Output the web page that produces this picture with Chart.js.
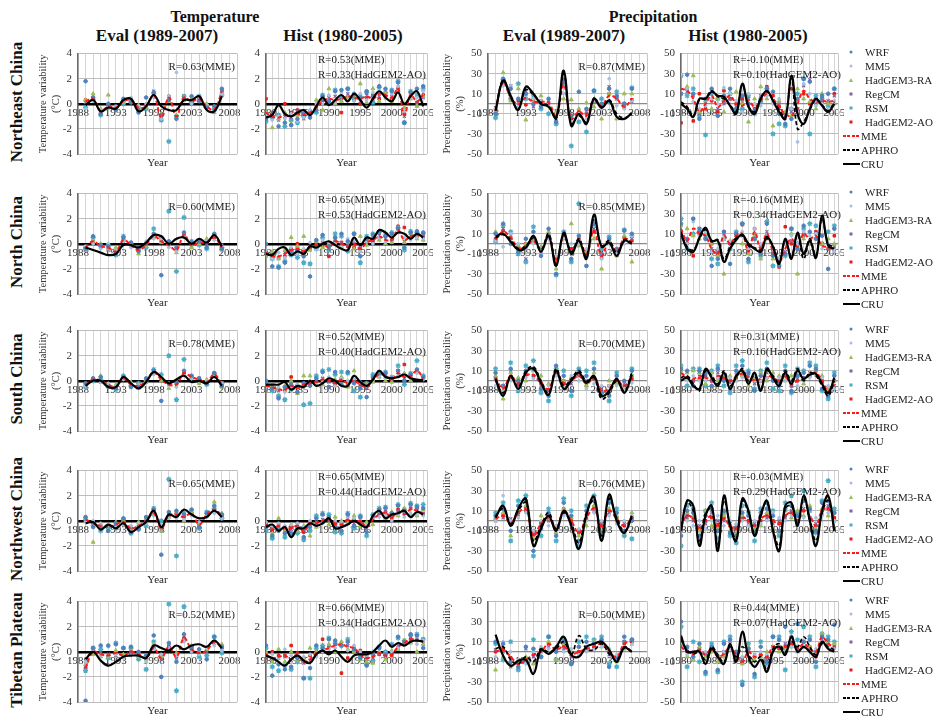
<!DOCTYPE html>
<html><head><meta charset="utf-8">
<script src="https://cdn.jsdelivr.net/npm/chart.js@4/dist/chart.umd.min.js"></script>
<style>
body{margin:0;width:933px;height:718px;position:relative;background:#fff;overflow:hidden;font-family:'Liberation Serif','Times New Roman',serif;color:#111}
canvas{position:absolute}
.h{position:absolute;transform:translate(-50%,-50%);font-weight:bold;white-space:nowrap}
.row{position:absolute;transform:translate(-50%,-50%) rotate(-90deg);font-weight:bold;font-size:17px;white-space:nowrap}
.lg{position:absolute;font-size:11px;white-space:nowrap;transform:translateY(-50%);color:#222}
.mk{position:absolute;transform:translate(-50%,-50%)}
</style></head><body>
<script>
// ---------------- DATA ----------------
const YEARS_EVAL = [1989,1990,1991,1992,1993,1994,1995,1996,1997,1998,1999,2000,2001,2002,2003,2004,2005,2006,2007];
const YEARS_HIST = [1980,1981,1982,1983,1984,1985,1986,1987,1988,1989,1990,1991,1992,1993,1994,1995,1996,1997,1998,1999,2000,2001,2002,2003,2004,2005];
const EVAL_TICKS = [1988,1993,1998,2003,2008];
const HIST_TICKS = [1980,1985,1990,1995,2000,2005];
const T_TICKS = [-4,-2,0,2,4];
const P_TICKS = [-50,-30,-10,10,30,50];
const MODELS = ['WRF','MM5','HadGEM3-RA','RegCM','RSM','HadGEM2-AO'];
const LEGEND = ['WRF','MM5','HadGEM3-RA','RegCM','RSM','HadGEM2-AO','MME','APHRO','CRU'];
const REGIONS = ['Northeast China','North China','South China','Northwest China','Tibetan Plateau'];
// Temperature panels: rows = WRF, MM5, HadGEM3-RA, RegCM, RSM, HadGEM2-AO, MME, CRU
// Precipitation panels: rows = WRF, MM5, HadGEM3-RA, RegCM, RSM, HadGEM2-AO, MME, APHRO, CRU

const NE_T_EVAL = [
 [1.8,0.5,-0.8,0.0,-0.5,0.4,0.1,-0.7,0.5,0.9,-0.9,0.3,-1.2,0.4,0.6,0.2,-0.3,-0.2,1.2],
 [-0.4,0.2,-0.5,-0.3,-0.2,0.3,0.5,-0.2,0.0,0.5,-1.2,0.6,2.5,0.4,0.0,0.5,-0.1,-0.6,0.8],
 [0.3,0.8,-0.4,0.7,-0.4,0.1,0.2,-0.1,-0.3,0.6,-0.8,0.2,-0.9,0.5,0.4,0.3,0.0,-0.7,0.9],
 [0.1,0.4,-0.7,-0.1,-0.2,0.3,0.4,-0.4,-0.2,1.0,-1.0,0.4,-1.1,0.3,0.2,0.5,-0.3,-0.4,1.1],
 [-0.3,0.3,-0.9,-0.3,-0.3,0.0,0.2,-0.5,-0.4,0.8,-1.3,-3.0,-1.0,0.6,0.1,0.6,-0.2,-0.5,0.7],
 [0.3,0.5,-0.6,-0.1,-0.4,0.2,0.3,-0.3,-0.1,0.6,-1.2,0.6,-1.0,0.6,0.3,0.4,-0.2,-0.5,1.0],
 [0.2,0.4,-0.6,-0.2,-0.3,0.2,0.3,-0.3,-0.2,0.7,-1.1,0.5,-1.0,0.5,0.2,0.4,-0.2,-0.5,1.0],
 [-0.1,0.3,-0.6,-0.3,-0.4,0.3,0.4,-0.6,-0.2,0.7,-0.2,-0.5,-0.5,0.3,0.3,0.6,-0.5,-0.6,0.6]
];
const NE_T_HIST = [
 [-1.2,-1.0,-1.8,-1.5,-1.7,-1.2,-0.8,-1.1,-0.5,0.6,0.2,1.0,1.1,1.2,0.8,0.5,1.0,0.6,1.4,1.2,1.0,1.7,-1.5,0.9,1.2,1.4],
 [-0.9,-1.3,-1.0,-1.2,-0.8,-1.4,-1.1,-0.5,0.0,0.0,0.7,0.1,0.9,0.3,0.2,0.8,0.3,0.9,1.0,0.4,0.8,1.4,-0.6,0.5,0.5,1.0],
 [-0.6,-1.9,-1.2,-0.7,-1.6,-0.9,-0.6,-0.8,0.3,-0.5,1.2,0.0,0.2,0.5,0.7,1.6,0.1,1.2,0.2,0.9,0.2,1.0,-0.3,0.4,-0.2,0.6],
 [-0.8,-0.7,-1.3,-1.0,-1.1,-0.6,-1.2,-0.9,-0.4,0.3,0.5,0.6,0.3,0.8,0.6,0.2,0.7,0.3,0.6,1.1,0.6,1.3,-1.0,0.8,0.0,0.5],
 [-1.4,-1.1,-0.9,-1.8,-1.3,-1.5,-1.0,-0.6,-0.7,0.7,0.1,1.1,0.5,1.2,0.4,0.6,0.9,0.1,1.3,0.9,1.1,1.8,-1.5,1.0,0.7,1.2],
 [0.4,-0.8,-0.9,0.0,-0.7,-0.5,-1.0,-0.6,-0.2,0.3,0.2,0.1,-0.7,0.5,0.3,0.0,0.5,0.7,0.4,0.6,0.3,1.2,-0.8,0.6,0.1,0.7],
 [-0.7,-1.0,-1.1,-0.9,-1.0,-0.8,-0.9,-0.7,-0.3,0.2,0.4,0.3,0.4,0.6,0.5,0.4,0.6,0.4,0.8,0.7,0.5,1.2,-0.9,0.7,0.2,0.7],
 [-1.1,-0.9,-0.1,-0.8,-1.0,-0.7,-0.5,-0.9,-0.2,0.5,-0.1,0.3,0.7,0.2,0.8,0.3,-0.3,0.4,1.0,0.5,0.2,0.9,0.0,0.6,1.0,-0.2]
];
const NE_P_EVAL = [
 [-10,25,15,5,10,0,-3,5,-18,25,-12,12,-5,13,0,15,8,0,15],
 [-5,18,18,-3,8,5,3,0,-10,10,-18,-10,-15,3,-5,25,-2,-5,3],
 [-8,31,3,15,-16,5,8,-2,-8,5,4,-5,1,-3,-15,10,-15,10,10],
 [-4,20,18,-2,12,-3,0,3,-15,22,-20,-10,-8,2,0,17,5,-2,2],
 [-14,24,5,20,5,8,-5,-10,-20,18,-42,-18,-28,13,5,2,12,0,16],
 [-6,23,5,3,-1,4,3,1,-10,20,-12,-8,-10,2,-3,10,6,-4,4],
 [-7,22,6,0,6,2,2,1,-12,19,-15,-8,-12,4,-2,8,5,-3,5],
 [-6,24,6,-5,14,9,1,-2,-15,30,-20,-12,-18,6,-3,4,-10,-14,-10],
 [-7,23,8,-6,17,10,0,-3,-14,33,-22,-10,-20,5,-4,3,-13,-15,-9]
];
const NE_P_HIST = [
 [10,29,10,-15,5,15,-12,8,15,-5,8,0,-8,5,15,12,-10,-20,-15,5,25,22,5,8,10,15],
 [29,15,2,-5,-2,5,0,16,10,3,-8,10,0,-2,8,0,5,-15,-5,-38,20,10,-2,0,-5,3],
 [0,17,28,-8,3,-5,5,-8,10,12,0,-18,5,17,5,-22,3,-8,-12,15,5,2,-5,10,0,0],
 [10,12,8,-10,2,12,-5,0,5,-3,2,5,-5,8,12,3,0,-12,-8,-5,18,24,0,5,3,8],
 [28,8,15,-12,-31,10,5,3,10,-8,-5,8,-10,2,15,-30,-20,-22,-5,10,25,-30,8,5,-2,15],
 [-19,15,-17,10,-5,3,-8,13,5,0,5,0,-5,3,17,8,-3,-10,15,-5,10,0,5,2,0,10],
 [15,13,5,-8,0,8,-3,3,8,0,-2,3,-3,3,10,5,-3,-10,-12,0,13,5,2,3,2,3],
 [2,-3,-12,4,6,13,7,5,-1,-8,19,-2,-8,6,12,4,-6,-13,26,-25,-18,-6,4,-1,-7,2],
 [0,-5,-13,5,5,12,8,7,-2,-10,20,-3,-10,5,13,3,-8,-15,28,-10,-20,-5,5,-2,-8,0]
];

const NC_T_EVAL = [
 [-0.4,0.6,-0.1,-0.2,-0.8,0.5,0.1,-0.6,0.0,0.8,-2.5,0.2,-0.3,0.9,0.1,0.2,-0.3,0.8,-0.4],
 [-0.2,0.0,-0.4,0.0,-0.5,0.2,-0.3,-0.4,0.2,0.4,0.4,-0.3,-0.6,0.5,0.0,0.3,0.2,0.3,-0.2],
 [-0.5,0.3,0.0,-0.4,-0.3,0.4,0.0,-0.8,-0.2,0.5,0.1,0.0,-0.7,0.6,-0.3,0.0,0.4,0.6,-0.5],
 [-0.2,0.1,-0.3,-0.5,-0.7,0.2,-0.2,-0.3,-0.1,0.7,0.3,-0.2,-0.4,0.8,-0.2,0.1,0.0,0.4,-0.1],
 [-0.3,0.5,-0.2,-0.1,-0.9,0.6,0.0,-0.4,-0.3,1.2,0.5,2.6,-2.2,2.1,0.2,-0.1,-0.4,0.7,-0.3],
 [-0.4,0.2,-0.1,-0.3,-0.5,0.3,-0.1,-0.6,0.0,0.6,0.2,0.0,-0.5,0.7,-0.1,0.2,0.1,0.5,-0.4],
 [-0.3,0.2,-0.2,-0.3,-0.6,0.3,-0.1,-0.5,-0.1,0.6,0.2,-0.1,-0.5,0.7,-0.1,0.1,0.1,0.5,-0.3],
 [-0.3,-0.5,-0.7,-0.9,-0.8,-0.1,-0.1,-0.3,0.1,0.7,0.6,0.0,0.4,0.5,0.0,0.4,0.1,0.7,-0.2]
];
const NC_T_HIST = [
 [0.0,-1.8,-1.9,-1.5,-0.8,-0.5,-1.0,-2.6,0.3,0.7,-0.2,0.5,0.8,0.2,0.8,-1.0,0.4,0.7,1.0,0.6,0.8,1.2,-0.3,0.9,1.0,0.9],
 [-0.5,-1.2,-0.7,-1.1,-0.3,-0.8,-0.4,0.1,-0.4,0.3,0.1,0.0,-0.3,0.4,0.3,-0.6,0.2,0.0,0.5,0.1,0.6,0.9,0.5,0.3,0.5,0.4],
 [-1.0,-0.6,-1.2,-0.5,0.5,-0.2,0.6,-0.5,0.2,-0.3,0.0,0.5,-0.2,0.1,-0.4,0.6,-0.1,0.5,0.3,0.0,0.1,0.9,0.1,0.8,0.4,0.3],
 [-0.6,-0.9,-1.1,-0.7,-0.6,-0.3,-0.7,-0.4,0.0,0.1,-0.4,0.3,0.1,-0.1,0.2,-0.3,0.0,0.4,0.7,0.4,0.2,1.2,0.2,0.7,0.8,0.7],
 [-0.8,-1.2,-1.8,-1.4,-0.9,-1.1,-1.5,-1.6,-0.4,0.5,-0.5,0.8,0.6,-0.6,0.8,-1.5,0.6,0.8,0.9,0.7,0.9,1.3,-0.5,1.0,0.9,0.8],
 [-0.7,-0.9,-1.1,-1.0,-0.4,0.0,-0.8,-0.3,0.1,-0.2,-1.0,0.2,0.1,-0.2,-0.3,-0.4,0.3,0.2,0.5,0.0,0.3,1.4,1.3,0.5,0.6,0.6],
 [-0.7,-1.0,-1.0,-0.8,-0.5,-0.4,-0.6,-0.3,-0.1,0.0,-0.3,0.2,0.0,-0.2,0.0,-0.4,0.1,0.3,0.6,0.3,0.3,1.1,0.3,0.6,0.7,0.6],
 [-0.8,-0.9,-0.4,-0.3,-0.9,-0.6,-0.8,-0.2,-0.3,0.0,0.2,-0.1,-0.4,-0.5,0.5,-0.1,0.5,0.4,1.1,0.9,0.5,0.9,0.8,0.4,0.8,0.5]
];
const NC_P_EVAL = [
 [10,20,0,-8,5,12,-12,15,-30,10,-15,8,-22,20,-10,5,-5,13,10],
 [3,-3,10,0,-5,0,-10,5,-12,6,0,0,-5,18,-15,0,-10,0,8],
 [12,19,5,-2,0,2,-3,12,-25,5,20,-2,-8,5,-25,3,-12,8,-18],
 [5,15,8,-5,-15,4,-8,10,-20,9,-8,2,-22,15,-10,2,-6,5,5],
 [2,18,12,-10,-18,17,-5,8,-31,12,-18,40,-12,18,-5,7,-8,14,8],
 [5,13,6,-3,0,4,-6,8,-15,7,-5,5,-8,12,-14,2,-10,6,3],
 [4,12,6,-4,-2,3,-7,9,-18,8,-6,3,-10,13,-12,2,-8,5,2],
 [6,9,4,-5,-2,6,-6,10,-20,9,-8,5,-13,25,-2,3,-9,4,1],
 [7,10,2,-6,-4,8,-8,8,-22,11,-10,3,-15,29,-3,1,-12,3,0]
];
const NC_P_HIST = [
 [20,5,25,12,5,-22,-15,12,-20,10,20,-15,5,-10,20,-12,-22,-10,15,-5,18,12,5,8,-25,15],
 [10,0,22,8,12,-8,-5,5,3,5,12,-5,15,0,8,-5,-15,0,8,0,12,8,10,-5,0,-8],
 [18,15,8,5,10,0,-12,-30,3,5,0,-10,8,-15,5,-15,-20,0,10,-30,5,0,5,0,5,0],
 [12,2,25,15,5,-5,-8,10,2,10,8,-6,10,-3,12,-10,-18,-8,3,-5,8,3,10,0,-5,-3],
 [25,-5,10,15,8,-15,-20,5,-5,12,20,-18,5,-12,22,-22,-15,-12,15,0,15,20,18,0,12,18],
 [12,0,-12,10,5,0,-10,12,0,8,19,-5,15,-8,8,-5,-23,17,0,-2,10,0,12,0,-5,8],
 [15,3,15,10,8,-5,-10,8,0,8,10,-8,12,-5,10,-8,-18,-5,5,-3,10,5,8,-2,-3,-5],
 [12,-3,-6,5,14,2,4,-15,-3,6,8,-2,-4,-6,5,-2,-18,3,-12,9,-15,5,-12,25,0,-3],
 [10,-5,-8,6,16,3,3,-18,-5,4,9,0,-5,-8,7,-3,-20,5,-15,11,-10,3,-14,28,-2,-5]
];

const SC_T_EVAL = [
 [-0.2,0.2,0.3,-0.5,-0.6,0.3,-0.5,-0.5,0.2,0.8,-1.6,-0.2,-0.1,0.8,0.4,0.2,-0.2,0.6,-0.4],
 [-0.4,0.0,-0.1,-0.2,-0.4,0.1,-0.2,-0.3,-0.1,0.5,0.3,-0.4,-0.5,0.4,0.2,0.0,0.0,0.4,-0.2],
 [-0.3,0.2,0.4,-0.4,-0.3,0.2,-0.1,-0.6,0.1,0.6,0.0,-0.6,-0.2,0.5,0.4,-0.2,0.1,0.5,-0.5],
 [-0.2,0.1,-0.1,-0.3,-0.5,0.3,-0.3,-0.4,-0.1,0.6,0.2,-0.3,-0.4,0.7,0.3,0.2,-0.1,0.4,-0.3],
 [-0.5,0.0,0.1,-0.4,-0.7,0.4,-0.4,-0.2,0.0,0.9,0.5,2.0,-1.5,1.7,0.2,0.1,-0.3,0.6,-0.2],
 [-0.3,0.1,0.0,-0.3,-0.5,0.2,-0.3,-0.5,0.0,0.6,0.2,-0.3,-0.2,0.6,0.4,0.1,-0.1,0.6,-0.3],
 [-0.3,0.1,0.0,-0.3,-0.5,0.2,-0.3,-0.4,0.0,0.7,0.1,-0.3,-0.3,0.6,0.3,0.1,-0.1,0.5,-0.3],
 [-0.4,0.0,0.0,-0.5,-0.5,0.3,-0.2,-0.6,-0.1,0.7,0.3,-0.2,0.1,0.4,-0.1,0.0,-0.2,0.3,-0.4]
];
const SC_T_HIST = [
 [0.0,-0.6,-1.4,-0.5,-0.3,-0.9,-0.2,-0.4,0.2,0.7,-0.5,0.7,-0.3,0.7,-0.2,-0.6,-1.3,0.3,0.6,0.6,0.2,0.8,0.0,0.5,0.9,0.3],
 [-0.5,-0.3,-0.5,-0.9,-0.6,-0.3,-0.5,0.0,-0.3,0.0,0.3,-0.4,0.2,0.0,0.2,-0.1,-0.4,0.0,0.4,0.2,0.3,0.4,0.5,0.2,0.6,0.1],
 [-0.3,-0.4,-0.6,-0.4,0.0,-1.0,0.4,0.4,-0.2,-0.3,0.2,0.1,0.3,-0.5,0.8,-0.6,-0.3,-0.1,0.3,0.0,-0.1,0.4,0.6,0.0,0.7,0.3],
 [-0.4,-0.6,-0.8,-0.6,-0.5,-0.5,-0.4,-0.3,0.0,0.2,-0.1,-0.1,0.2,-0.3,0.1,-0.2,-0.6,0.2,0.6,0.5,0.2,0.7,0.2,0.5,0.8,0.2],
 [-0.2,-0.8,-1.2,-1.5,-0.7,-0.4,-1.9,-1.8,0.4,0.8,0.9,0.5,0.7,0.6,-0.8,-1.3,-0.2,0.5,0.7,0.7,0.3,1.2,-0.3,0.6,1.6,0.4],
 [-0.5,-0.6,-1.3,-0.8,0.3,-0.5,-0.3,-0.1,-0.1,0.0,-0.5,-0.3,0.1,-0.4,0.0,-0.3,-0.6,0.1,0.4,0.3,0.0,0.8,1.3,0.3,0.7,0.2],
 [-0.4,-0.5,-0.7,-0.7,-0.4,-0.6,-0.3,-0.2,-0.1,0.1,0.0,-0.2,0.1,-0.2,0.0,-0.3,-0.5,0.1,0.5,0.4,0.1,0.6,0.3,0.4,0.8,0.2],
 [-0.3,-0.3,-0.3,-0.1,-0.7,-0.4,-0.5,0.0,-0.4,-0.2,0.2,0.0,-0.4,-0.4,0.4,-0.1,-0.4,0.1,0.8,0.3,0.2,0.3,0.5,0.2,0.1,0.05]
];
const SC_P_EVAL = [
 [8,-5,12,0,10,12,-8,-15,15,5,-10,10,5,12,-12,-15,5,0,10],
 [-5,-10,0,-8,3,2,0,-5,5,-8,5,0,-8,-3,-5,-5,-5,-8,-2],
 [5,-18,8,3,0,10,5,-3,10,0,3,8,-5,8,-15,0,-3,-10,5],
 [2,-5,10,-5,8,5,-5,-10,6,0,-3,5,0,3,-8,-12,3,-3,5],
 [12,-12,18,-10,15,20,-12,-20,12,10,-15,12,10,18,-12,-20,8,-8,12],
 [3,-6,4,-2,6,5,-2,-9,8,-3,2,6,-5,2,-12,-5,0,-6,2],
 [3,-8,5,-3,5,6,-3,-8,8,-2,0,5,-3,3,-10,-8,0,-5,3],
 [0,-12,3,-6,10,14,0,-12,12,-5,2,10,0,3,-18,-12,0,-10,8],
 [2,-15,5,-8,8,12,-2,-14,10,-8,0,8,-2,5,-15,-10,2,-12,6]
];
const SC_P_HIST = [
 [12,10,-5,10,8,-5,12,0,-8,10,15,8,-10,5,12,0,-5,10,-10,5,8,15,12,-8,-15,5],
 [5,0,5,0,0,5,3,8,3,0,3,0,5,0,3,5,3,0,0,-5,0,3,5,3,-5,-8],
 [10,8,10,8,-3,8,0,5,5,0,5,-5,3,8,0,8,5,0,5,5,-3,5,10,5,-8,0],
 [6,3,0,8,5,0,8,2,-2,6,8,5,-3,0,8,2,-2,6,-5,2,3,8,10,-2,-12,-5],
 [15,-5,12,12,-5,10,15,-5,-12,15,20,10,-8,10,18,-8,-10,15,-12,12,10,18,15,-10,-18,8],
 [5,3,0,2,5,0,3,2,0,3,5,0,2,0,3,2,0,5,-5,0,3,5,10,0,-12,0],
 [8,4,2,5,3,2,5,3,0,4,7,3,0,2,5,3,0,4,-3,0,2,6,8,0,-10,-3],
 [3,5,-3,-10,10,5,-3,10,-5,3,12,0,5,-8,10,5,-3,10,0,12,0,8,5,-5,-15,0],
 [0,3,-5,-8,12,3,-5,8,-8,5,10,-3,8,-10,12,3,-5,8,-3,10,2,6,7,-3,-12,3]
];

const NW_T_EVAL = [
 [0.3,-0.5,-0.6,-0.8,-0.2,0.2,-0.9,-0.7,0.3,0.9,-2.7,0.7,0.8,0.5,0.9,-0.5,0.6,1.2,0.5],
 [-0.1,0.0,-0.2,-0.3,-0.5,-0.3,-0.4,-0.2,-0.2,0.4,-0.3,0.2,0.2,0.1,0.4,-0.1,0.3,0.6,0.2],
 [0.2,-1.7,-0.3,-0.7,-0.1,0.0,-0.8,-0.1,0.2,0.5,-0.8,0.3,0.6,0.0,0.7,-0.4,0.4,1.5,0.6],
 [0.0,-0.1,-0.5,-0.4,-0.4,-0.2,-0.5,-0.5,0.1,0.7,-0.5,0.5,0.4,0.4,0.5,-0.2,0.5,0.8,0.3],
 [0.1,-0.4,-0.8,-0.6,-0.6,0.1,-1.0,-0.6,-0.4,1.0,0.0,3.3,-2.8,0.7,0.8,-0.6,0.7,1.0,0.2],
 [0.2,-0.2,-0.4,-0.5,-0.3,-0.1,-0.6,-0.4,0.0,0.6,-0.6,0.4,0.6,0.3,0.6,-0.3,0.5,0.9,0.4],
 [0.1,-0.2,-0.4,-0.5,-0.3,-0.1,-0.6,-0.4,0.0,0.6,-0.6,0.4,0.5,0.3,0.6,-0.3,0.5,0.9,0.4],
 [-0.2,-0.1,-0.7,-0.3,-0.6,-0.2,-0.9,-0.5,-0.1,0.8,-0.5,0.5,0.3,0.9,0.5,0.2,0.3,0.8,0.3]
];
const NW_T_HIST = [
 [-0.5,-1.2,-0.8,-1.0,-1.0,-0.6,-1.3,-0.5,0.2,0.5,0.3,-0.5,-0.8,0.5,-0.4,0.3,-0.9,0.4,0.9,1.0,0.6,1.2,0.8,1.3,1.1,1.0],
 [-0.1,-0.4,-0.2,-0.4,-0.3,-0.2,-0.5,0.0,-0.4,-0.2,0.3,0.0,-0.1,0.3,0.2,0.2,-0.3,0.3,0.3,0.4,0.0,0.5,0.3,0.6,0.5,0.4],
 [-0.6,-1.0,0.2,-0.8,-0.3,-0.8,-0.4,-1.2,-0.5,0.5,-0.3,0.3,0.0,-0.2,0.4,-0.4,-0.1,-0.3,0.8,0.2,0.7,0.4,1.0,0.5,0.4,0.9],
 [-0.3,-0.6,-0.5,-0.5,-0.7,-0.3,-0.7,-0.4,-0.1,0.1,0.0,-0.1,-0.4,0.2,-0.2,0.1,-0.6,0.2,0.6,0.7,0.4,0.8,0.6,1.0,0.9,0.6],
 [-0.8,-1.4,-0.6,-1.3,-1.1,-1.0,-1.5,-0.8,0.4,0.6,0.5,-0.9,-1.0,0.6,-0.6,0.4,-1.2,0.5,1.0,1.1,0.5,1.3,0.9,1.4,1.2,1.3],
 [-0.2,-0.8,-0.3,-0.7,-0.5,-0.2,-0.9,-0.1,-0.3,-0.1,0.2,-0.3,-0.2,0.0,0.1,-0.1,-0.4,0.3,0.6,0.7,0.2,0.9,0.6,1.0,1.0,0.5],
 [-0.3,-0.7,-0.4,-0.6,-0.6,-0.4,-0.8,-0.3,-0.2,0.0,0.1,-0.2,-0.3,0.1,-0.1,0.0,-0.5,0.1,0.5,0.6,0.3,0.7,0.5,0.9,0.8,0.6],
 [-0.5,-0.3,-0.8,-0.5,-1.3,-0.6,-0.6,-0.2,-0.4,-0.2,0.2,-0.6,-0.5,-0.3,0.0,-0.3,-0.5,0.4,0.8,0.2,0.5,0.6,0.8,0.3,0.7,0.5]
];
const NW_P_EVAL = [
 [5,12,-10,15,20,-30,-8,8,-15,18,5,-20,10,20,-12,18,8,-10,0],
 [0,25,0,3,8,-10,0,-5,-5,5,-5,-8,0,8,0,5,-3,0,5],
 [3,8,-15,10,15,-18,5,3,-12,12,3,-15,-5,15,-10,12,5,-12,8],
 [0,3,2,6,10,-12,-5,0,-5,8,-2,-10,5,10,-3,8,0,-3,2],
 [8,18,-20,20,25,-35,-15,12,-20,22,10,-25,15,25,-15,22,12,-15,-18],
 [2,5,-3,8,10,-14,-2,5,-8,12,0,-12,2,14,-5,10,3,-5,3],
 [2,5,-2,8,12,-15,-3,3,-8,10,0,-12,3,12,-5,10,2,-5,3],
 [5,12,-3,10,18,-20,-5,8,-8,8,-3,-22,8,20,-15,22,3,-10,3],
 [3,15,-5,12,22,-25,-8,5,-10,10,-5,-28,6,24,-20,26,0,-12,5]
];
const NW_P_HIST = [
 [-15,10,8,-15,5,12,-10,10,-12,-15,8,5,-12,8,12,5,-10,12,15,5,20,12,-10,18,20,8],
 [-3,0,-5,0,-8,0,5,-5,0,-3,0,-5,0,-3,0,8,3,0,5,-5,3,0,3,5,8,0],
 [0,8,5,-10,10,-5,-8,5,-10,-12,5,10,-8,-5,8,-8,-12,10,3,10,5,15,-8,12,5,8],
 [-8,3,0,-5,-3,8,0,0,-3,-5,2,-3,-3,5,3,-3,0,3,10,-3,12,3,-3,8,15,0],
 [-25,15,12,-20,10,18,-18,8,-15,-22,15,8,-20,12,18,10,-15,18,25,8,30,10,-12,20,40,12],
 [-5,5,3,-8,0,3,-5,3,-5,-8,3,0,-5,0,5,0,-3,5,8,0,10,3,-5,10,12,3],
 [-5,5,2,-8,0,5,-3,2,-5,-8,3,0,-5,2,5,0,-3,5,8,0,10,5,-5,10,12,3],
 [-5,18,10,-20,8,12,-25,20,-3,-18,20,8,-12,8,18,-8,-25,12,15,-3,22,2,-20,8,20,-8],
 [-10,20,15,-25,5,15,-30,25,-5,-20,22,10,-15,5,20,-10,-30,15,18,-5,25,0,-25,10,25,-10]
];

const TP_T_EVAL = [
 [-3.9,0.3,0.5,0.5,0.6,0.3,0.4,0.0,-0.3,1.3,-2.0,0.7,-0.8,1.4,0.4,0.2,-0.6,1.2,0.4],
 [-0.8,0.2,-0.3,0.4,-0.2,-0.5,-0.3,-0.1,-0.8,0.2,-0.2,0.3,-0.3,0.8,0.0,-0.2,0.3,0.5,0.1],
 [-1.0,-0.2,-0.4,-0.4,0.1,-0.2,0.3,-0.4,-0.6,0.6,-0.4,0.2,-0.1,0.9,0.5,0.0,0.2,0.9,0.6],
 [-1.2,0.1,-0.1,-0.2,-0.3,-0.4,-0.1,-0.3,-0.4,0.4,-0.6,0.5,-0.5,1.0,0.1,-0.1,0.0,0.7,0.2],
 [-1.5,0.3,0.2,-0.5,0.7,0.3,0.3,-0.6,-1.4,0.8,-0.3,3.8,-3.1,3.6,0.3,-0.4,-0.3,1.2,-0.1],
 [-1.3,0.0,-0.2,-0.3,-0.1,-0.3,0.0,-0.2,-0.5,0.3,-0.5,0.4,-0.4,1.1,0.2,-0.1,0.1,0.8,0.3],
 [-1.3,0.0,-0.2,-0.3,-0.1,-0.3,0.0,-0.2,-0.5,0.3,-0.5,0.4,-0.4,1.1,0.2,-0.1,0.1,0.8,0.3],
 [-0.6,0.0,-0.7,-1.1,-0.8,-0.4,-0.3,-0.3,-0.5,0.5,0.3,0.1,0.5,0.2,0.5,0.6,0.4,0.9,0.3]
];
const TP_T_HIST = [
 [0.5,-1.9,-1.0,-1.4,-1.2,-0.5,-2.1,-1.3,0.5,0.3,1.0,0.9,0.5,0.8,0.2,-0.5,-1.1,-0.2,0.3,-0.2,0.5,1.2,0.8,1.4,1.3,0.3],
 [-0.3,-0.2,-0.5,0.2,-0.3,-0.3,-0.4,-0.2,-0.4,0.0,0.2,0.3,0.4,0.1,0.5,0.0,-0.3,0.0,0.2,-0.1,0.0,0.3,0.5,0.7,0.6,0.9],
 [0.0,-0.8,0.2,-0.8,0.0,-0.7,-0.5,0.3,0.0,0.3,0.6,0.0,0.8,0.2,0.0,-0.6,-0.8,-0.9,0.0,-0.6,0.1,0.2,0.9,0.7,0.0,0.6],
 [-0.3,-0.6,-0.5,-0.4,-0.7,-0.3,-0.9,-0.7,-0.2,0.2,0.4,0.6,0.7,0.5,0.4,-0.1,-0.6,-0.5,-0.2,-0.4,-0.1,0.5,0.8,1.1,1.0,0.7],
 [0.3,-1.2,-1.5,-1.1,-1.4,-0.8,-2.1,-2.1,0.3,0.5,1.1,0.7,0.5,1.0,0.1,-0.4,-1.0,-0.7,0.4,0.0,0.6,1.1,0.9,1.3,1.4,1.0],
 [-0.4,0.0,-0.3,-0.3,0.5,-0.1,-0.5,-0.3,0.0,1.0,0.5,0.6,-1.7,-0.5,0.2,0.1,-0.3,-0.8,-0.2,-0.4,-0.3,0.3,0.6,1.0,0.9,1.0],
 [-0.2,-0.5,-0.4,-0.3,-0.6,-0.2,-0.8,-0.6,-0.1,0.1,0.3,0.5,0.6,0.4,0.3,-0.2,-0.5,-0.4,-0.1,-0.3,-0.2,0.4,0.7,1.0,0.9,0.8],
 [-0.3,-0.5,-0.8,-1.1,-0.6,-0.3,-0.7,-0.9,-0.2,0.1,-0.2,0.1,-0.4,-0.8,-0.3,-0.2,-0.2,0.0,0.5,0.9,0.4,0.7,0.5,0.8,0.9,0.8]
];
const TP_P_EVAL = [
 [10,8,-10,-15,5,3,-5,15,0,10,-12,5,10,8,12,-15,-8,15,12],
 [-5,10,0,-8,-12,0,5,3,5,0,3,-3,0,3,5,3,-3,5,8],
 [-18,-5,-12,-10,-5,-12,3,10,-8,8,0,5,3,10,5,3,-10,3,12],
 [2,0,-15,-8,3,-5,0,5,3,3,-5,-3,5,3,10,-3,-5,10,8],
 [8,-8,10,-18,-10,12,-5,15,-8,12,-12,10,15,12,15,-12,-15,10,12],
 [0,3,-6,-12,-8,-3,2,8,2,6,-3,0,3,5,8,0,-5,8,10],
 [0,2,-5,-12,-8,-3,0,8,2,5,-2,0,3,5,8,0,-5,8,10],
 [3,5,-8,-12,-5,-10,3,0,3,10,-3,16,3,2,8,-2,-8,5,0],
 [17,-4,-14,-9,-8,-22,2,-2,5,15,-3,-5,5,8,10,2,-10,4,0]
];
const TP_P_HIST = [
 [30,5,-5,8,-20,5,-18,8,12,0,-33,3,-22,5,-10,15,12,25,15,28,10,12,-10,15,12,27],
 [3,-3,0,0,0,5,-3,0,3,0,-5,3,-3,0,-3,3,5,0,5,0,5,0,3,10,5,3],
 [8,-5,-8,5,-5,0,-10,-5,3,-8,-12,5,-8,-5,0,5,0,3,5,0,10,5,-3,18,10,8],
 [5,2,-3,3,-2,5,-5,0,8,-5,-8,0,-3,-5,-8,5,5,8,10,5,5,2,0,12,8,5],
 [25,-15,10,-10,-22,8,-20,10,15,-5,-30,8,-25,10,-12,15,15,-18,20,12,25,15,-15,18,15,10],
 [8,0,0,3,-3,3,-5,-2,5,-3,-10,0,-5,-3,-5,5,3,5,8,3,10,5,-5,15,8,5],
 [5,0,-2,2,-3,3,-5,-2,5,-3,-10,0,-5,-3,-5,5,3,5,8,3,8,3,0,15,8,5],
 [12,2,-2,0,-8,5,-3,-10,5,-5,5,-3,-10,-5,-18,3,8,0,10,5,15,5,-3,8,5,2],
 [16,0,0,0,-12,3,-5,-12,8,-10,20,-5,-15,-8,-20,0,5,-3,15,0,5,0,-5,10,3,0]
];

const R_TEXT = [
 [['R=0.63(MME)'],['R=0.53(MME)','R=0.33(HadGEM2-AO)'],['R=0.87(MME)'],['R=-0.10(MME)','R=0.10(HadGEM2-AO)']],
 [['R=0.60(MME)'],['R=0.65(MME)','R=0.53(HadGEM2-AO)'],['R=0.85(MME)'],['R=-0.16(MME)','R=0.34(HadGEM2-AO)']],
 [['R=0.78(MME)'],['R=0.52(MME)','R=0.40(HadGEM2-AO)'],['R=0.70(MME)'],['R=0.31(MME)','R=0.16(HadGEM2-AO)']],
 [['R=0.65(MME)'],['R=0.65(MME)','R=0.44(HadGEM2-AO)'],['R=0.76(MME)'],['R=-0.03(MME)','R=0.29(HadGEM2-AO)']],
 [['R=0.52(MME)'],['R=0.66(MME)','R=0.34(HadGEM2-AO)'],['R=0.50(MME)'],['R=0.44(MME)','R=0.07(HadGEM2-AO)']]
];
const PANELS = [
 [NE_T_EVAL, NE_T_HIST, NE_P_EVAL, NE_P_HIST],
 [NC_T_EVAL, NC_T_HIST, NC_P_EVAL, NC_P_HIST],
 [SC_T_EVAL, SC_T_HIST, SC_P_EVAL, SC_P_HIST],
 [NW_T_EVAL, NW_T_HIST, NW_P_EVAL, NW_P_HIST],
 [TP_T_EVAL, TP_T_HIST, TP_P_EVAL, TP_P_HIST]
];

// ---------------- LAYOUT / STYLE ----------------
const FONT = "'Liberation Serif','Times New Roman',serif";
const ROW_TOPS = [49, 189, 326, 466, 597];
const PLOT_H = 105;
const COLS = [
 {left:28,  w:215, yW:50, v:'T', p:'eval', title:['Temperature variability','(°C)']},
 {left:245, w:188, yW:21, v:'T', p:'hist', title:null},
 {left:432, w:221, yW:56, v:'P', p:'eval', title:['Precipitation variability','(%)']},
 {left:660, w:184, yW:21, v:'P', p:'hist', title:null}
];
const X_RANGE = { eval:[1988, 2009], hist:[1980, 2005.6] };
const STY = {
 'WRF':        {c:'#4F81BD', s:'circle',   r:1.8, bw:1},
 'MM5':        {c:'#A7C0DE', s:'circle',   r:1.4, bw:1},
 'HadGEM3-RA': {c:'#9BBB59', s:'triangle', r:2.2, bw:1},
 'RegCM':      {c:'#8064A2', s:'crossRot', r:2.2, bw:1.2},
 'RSM':        {c:'#4BACC6', s:'star',     r:2.6, bw:1.2},
 'HadGEM2-AO': {c:'#E0201B', s:'rect',     r:1.8, bw:1}
};

const annotPlugin = {
  id:'annot',
  afterDatasetsDraw(chart, args, opts){
    const {ctx, chartArea:a} = chart;
    ctx.save();
    ctx.strokeStyle = '#c8c8c8'; ctx.lineWidth = 1;
    ctx.beginPath(); ctx.moveTo(Math.round(a.right)+0.5, a.top); ctx.lineTo(Math.round(a.right)+0.5, a.bottom); ctx.stroke();
    ctx.font = "11px " + FONT;
    ctx.fillStyle = '#222';
    ctx.textBaseline = 'middle';
    if (opts.align === 'right') {
      ctx.textAlign = 'right';
      opts.lines.forEach((t,i)=>ctx.fillText(t, a.right-2, a.top+14+i*15));
    } else {
      ctx.textAlign = 'left';
      opts.lines.forEach((t,i)=>ctx.fillText(t, a.left+52, a.top+7+i*15));
    }
    ctx.textAlign = 'center';
    ctx.fillText('Year', (a.left+a.right)/2, a.bottom+9);
    ctx.restore();
  }
};
Chart.register(annotPlugin);

function pts(xs, ys){ return ys.map((v,i)=>({x:xs[i], y:v})); }

function makeChart(row, col){
  const c = COLS[col];
  const top = ROW_TOPS[row];
  const cv = document.createElement('canvas');
  cv.width = c.w; cv.height = 8 + PLOT_H + 18;
  cv.style.left = c.left+'px'; cv.style.top = (top-8)+'px';
  document.body.appendChild(cv);
  const isT = c.v==='T', isEval = c.p==='eval';
  const xs = isEval ? YEARS_EVAL : YEARS_HIST;
  const xt = isEval ? EVAL_TICKS : HIST_TICKS;
  const [xmin, xmax] = X_RANGE[c.p];
  const yt = isT ? T_TICKS : P_TICKS;
  const d = PANELS[row][col];
  const ds = [];
  ds.push({type:'line', label:'CRU', data:pts(xs,d[d.length-1]), borderColor:'#000', borderWidth:2.2, tension:0.4, pointRadius:0, fill:false});
  if (!isT) ds.push({type:'line', label:'APHRO', data:pts(xs,d[7]), borderColor:'#000', borderWidth:1.7, borderDash:[4,2.5], tension:0.4, pointRadius:0, fill:false});
  ds.push({type:'line', label:'MME', data:pts(xs,d[6]), borderColor:'#FF1A1A', borderWidth:2, borderDash:[4,2.5], tension:0.4, pointRadius:0, fill:false});
  MODELS.forEach((m,i)=>{
    const s = STY[m];
    ds.push({type:'scatter', label:m, data:pts(xs,d[i]), backgroundColor:s.c, borderColor:s.c, borderWidth:s.bw, pointStyle:s.s, pointRadius:s.r, showLine:false});
  });
  const tickFont = {family:FONT, size:11};
  new Chart(cv, {
    type:'scatter',
    data:{datasets:ds},
    options:{
      responsive:false, animation:false, devicePixelRatio:1,
      layout:{padding:{left:0, right:6, top:8, bottom:18}},
      plugins:{legend:{display:false}, tooltip:{enabled:false},
               annot:{lines:R_TEXT[row][col], align:isEval?'right':'left'}},
      scales:{
        x:{type:'linear', min:xmin, max:xmax, position:{y:0},
           afterFit:s=>{ s.height = 0; },
           afterBuildTicks:s=>{
             const t = [];
             for (let v = xmin; v <= xmax; v++) t.push({value:v});
             if (t[t.length-1].value !== xmax) t.push({value:xmax});
             s.ticks = t;
           },
           ticks:{autoSkip:false, maxRotation:0, minRotation:0, padding:3, font:tickFont, color:'#333',
                  callback:v=> xt.includes(v) ? String(v) : ''},
           grid:{color:'#d6d6d6', lineWidth:1, drawTicks:false},
           border:{display:true, color:isT?'#000':'#8c8c8c', width:isT?2.5:1.2}},
        y:{type:'linear', min:yt[0], max:yt[yt.length-1],
           afterFit:s=>{ s.width = c.yW; },
           afterBuildTicks:s=>{ s.ticks = yt.map(v=>({value:v})); },
           ticks:{padding:6, font:tickFont, color:'#333'},
           grid:{color:ctx=> (ctx.tick && ctx.tick.value===0) ? 'rgba(0,0,0,0)' : '#bdbdbd', drawTicks:false},
           border:{display:true, color:'#6a6a6a', width:1.5},
           title: c.title ? {display:true, text:c.title, font:{family:FONT, size:10.5}, color:'#333', padding:{top:9, bottom:0}} : {display:false}}
      }
    }
  });
}

function addDiv(cls, text, x, y, style){
  const el = document.createElement('div');
  el.className = cls; el.textContent = text;
  el.style.left = x+'px'; el.style.top = y+'px';
  if (style) Object.assign(el.style, style);
  document.body.appendChild(el);
  return el;
}
addDiv('h','Temperature',215,17,{fontSize:'16px'});
addDiv('h','Precipitation',653,17,{fontSize:'16px'});
addDiv('h','Eval (1989-2007)',157,36,{fontSize:'17px'});
addDiv('h','Hist (1980-2005)',343,36,{fontSize:'17px'});
addDiv('h','Eval (1989-2007)',564,36,{fontSize:'17px'});
addDiv('h','Hist (1980-2005)',748,36,{fontSize:'17px'});

function legendMarker(name, x, y){
  const el = document.createElement('div');
  el.className = 'mk';
  el.style.left = x+'px'; el.style.top = y+'px';
  const s = STY[name];
  if (s.s==='circle'){ Object.assign(el.style,{width:'3px',height:'3px',borderRadius:'50%',background:s.c}); }
  else if (s.s==='triangle'){ Object.assign(el.style,{width:'0',height:'0',borderLeft:'2px solid transparent',borderRight:'2px solid transparent',borderBottom:'4px solid '+s.c}); }
  else { Object.assign(el.style,{width:'3px',height:'3px',background:s.c}); }
  document.body.appendChild(el);
}
function legendLine(color, dashed, y){
  const el = document.createElement('div');
  Object.assign(el.style,{position:'absolute',left:'843px',top:(y-1)+'px',width:'17px',height:'2px',
    background: dashed ? `repeating-linear-gradient(90deg, ${color} 0 3px, transparent 3px 4.5px)` : color});
  document.body.appendChild(el);
}

for (let r=0; r<5; r++){
  addDiv('row', REGIONS[r], 17, ROW_TOPS[r]+53);
  for (let c=0; c<4; c++) makeChart(r,c);
  LEGEND.forEach((name,i)=>{
    const y = ROW_TOPS[r] + 3 + i*14;
    if (i<6){ legendMarker(name, 851, y); addDiv('lg', name, 865, y); }
    else {
      legendLine(name==='MME'?'#FF1A1A':'#000', name!=='CRU', y);
      addDiv('lg', name, 861, y);
    }
  });
}
</script>
</body></html>
